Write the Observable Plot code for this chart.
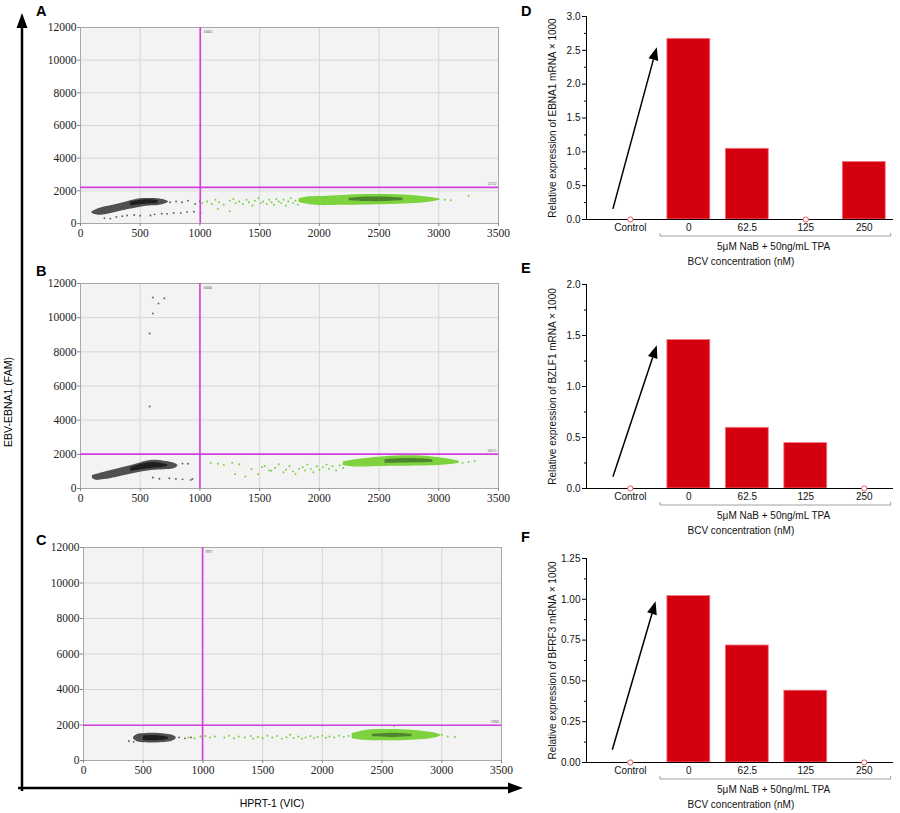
<!DOCTYPE html>
<html><head><meta charset="utf-8">
<script src="https://cdn.jsdelivr.net/npm/d3@7"></script>
<script src="https://cdn.jsdelivr.net/npm/@observablehq/plot@0.6"></script>
<style>
html,body{margin:0;padding:0;background:#fff}
#fig{position:relative;width:900px;height:813px;overflow:hidden;background:#fff}
#fig > svg{position:absolute}
.serif text{font-family:"Liberation Serif","Times New Roman",Times,serif !important}
</style></head><body><div id="fig"></div>
<script>
// ---------- scatter (ddPCR) data ----------
const xTicks = [0, 500, 1000, 1500, 2000, 2500, 3000, 3500];
const yTicks = [0, 2000, 4000, 6000, 8000, 10000, 12000];
const thresholdsX = [1003, 1000, 997];
const thresholdsY = [2212, 2015, 1985];

// cluster envelopes: [x, low y, high y]
const aGrayOuter = [[95,620,700],[150,500,900],[300,690,1160],[400,850,1350],[500,1000,1510],[600,1080,1530],[650,1100,1510],[700,1180,1450],[735,1290,1350]];
const aGrayCore = [[420,1080,1300],[500,1150,1420],[580,1200,1450],[650,1230,1400]];
const aGreenOuter = [[1830,1280,1520],[1900,1180,1620],[2000,1100,1650],[2200,1120,1720],[2400,1140,1770],[2600,1160,1770],[2800,1220,1700],[2950,1330,1580],[3010,1420,1500]];
const aGreenCore = [[2250,1400,1540],[2400,1340,1620],[2550,1350,1620],[2700,1410,1550]];
const aSparseGreen = [[1020,1250],[1060,1350],[1100,1200],[1130,1450],[1150,900],[1160,1300],[1200,1150],[1250,750],[1250,1400],[1280,1500],[1300,1250],[1330,1350],[1360,1200],[1390,1450],[1410,1300],[1440,1100],[1460,1400],[1490,1550],[1510,1250],[1530,1350],[1560,1200],[1580,1450],[1600,1300],[1620,1150],[1640,1500],[1660,1350],[1680,1250],[1700,1450],[1720,1100],[1740,1350],[1760,1550],[1780,1250],[1800,1400],[1820,1150],[1840,1500],[3050,1450],[3100,1420],[3250,1700]];
const aSparseGray = [[700,1350],[750,1300],[800,1350],[850,1300],[900,1400],[960,1200],[1000,1350],[200,330],[250,300],[300,400],[350,450],[390,490],[450,520],[500,480],[586,490],[620,560],[680,600],[725,590],[780,650],[840,640],[893,700],[950,720],[1005,650]];

const bGrayOuter = [[100,580,760],[130,480,820],[200,520,950],[300,650,1120],[400,800,1300],[500,950,1500],[600,1060,1650],[700,1100,1600],[780,1150,1500],[815,1290,1370]];
const bGrayCore = [[420,1000,1200],[500,1080,1400],[600,1180,1520],[680,1230,1470],[730,1290,1400]];
const bGreenOuter = [[2200,1350,1550],[2300,1260,1680],[2450,1280,1800],[2650,1300,1900],[2850,1320,1900],[3000,1350,1800],[3100,1400,1700],[3170,1480,1600]];
const bGreenCore = [[2550,1480,1700],[2700,1500,1760],[2850,1510,1740],[2950,1540,1680]];
const bSparseGreen = [[1090,1500],[1150,1450],[1200,1380],[1270,1500],[1295,840],[1330,1420],[1380,700],[1432,1130],[1487,840],[1520,1250],[1542,1320],[1580,1050],[1598,1040],[1630,1200],[1660,1420],[1700,950],[1720,1100],[1750,1300],[1780,1000],[1800,850],[1830,1150],[1860,1250],[1880,1050],[1900,1400],[1930,1150],[1950,950],[1980,1300],[2000,1100],[2030,1250],[2060,1400],[2080,1150],[2110,1300],[2140,1050],[2170,1350],[2200,1200],[2230,1450],[3200,1500],[3250,1550],[3300,1600]];
const bSparseGray = [[606,645],[661,570],[744,600],[799,560],[854,540],[923,500],[937,560],[854,1460],[900,1450]];
const bOutliers = [[606,11180],[702,11140],[653,10830],[606,10250],[579,9075],[579,4800]];

const cGrayOuter = [[420,1200,1320],[450,1060,1460],[520,1000,1520],[600,990,1530],[680,1020,1500],[740,1080,1440],[775,1200,1330]];
const cGrayCore = [[500,1130,1380],[580,1110,1410],[660,1140,1370],[710,1200,1310]];
const cGreenOuter = [[2250,1230,1520],[2350,1140,1680],[2500,1110,1740],[2700,1130,1720],[2850,1180,1640],[2950,1280,1540],[2990,1380,1450]];
const cGreenCore = [[2420,1340,1480],[2600,1300,1540],[2750,1350,1480]];
const cSparseGreen = [[880,1300],[930,1250],[980,1350],[1020,1380],[1060,1300],[1100,1350],[1180,1300],[1220,1400],[1260,1250],[1300,1350],[1350,1300],[1400,1380],[1420,1230],[1460,1320],[1500,1250],[1540,1400],[1580,1300],[1620,1380],[1660,1230],[1700,1310],[1730,1450],[1760,1270],[1800,1350],[1830,1230],[1860,1300],[1900,1380],[1930,1260],[1960,1330],[2000,1400],[2030,1280],[2060,1350],[2100,1300],[2140,1400],[2180,1330],[2220,1380],[2960,1400],[3000,1450],[3050,1350],[3110,1320],[2600,1950]];
const cSparseGray = [[380,1100],[420,1050],[800,1300],[850,1250],[900,1300]];

// ---------- bar chart data ----------
const categories = ["Control", "0", "62.5", "125", "250"];
const ebna1 = [0, 2.67, 1.045, 0, 0.85];
const bzlf1 = [0, 1.455, 0.595, 0.445, 0];
const bfrf3 = [0, 1.02, 0.717, 0.44, 0];
const groupLabel = "5\u03bcM NaB + 50ng/mL TPA";
const xLabelBars = "BCV concentration (nM)";
const arrowD = {x1: -0.29, y1: 0.15, x2: 0.46, y2: 2.54};
const arrowE = {x1: -0.29, y1: 0.11, x2: 0.46, y2: 1.40};
const arrowF = {x1: -0.30, y1: 0.075, x2: 0.44, y2: 0.985};

const fig = document.getElementById("fig");
const MAGENTA = "#d23fdc";
const SERIF = "'Liberation Serif', 'Times New Roman', Times, serif";
const SANS = "'Liberation Sans', Arial, sans-serif";

function place(node, left, top) {
  node.style.position = "absolute";
  node.style.left = left + "px";
  node.style.top = top + "px";
  fig.appendChild(node);
}

function scatter(p) {
  const env = arr => arr.map(([x, lo, hi]) => ({x, lo, hi}));
  const area = (arr, fill, op = 1) => Plot.areaY(env(arr), {x: "x", y1: "lo", y2: "hi", curve: "catmull-rom", fill, fillOpacity: op});
  const mt = 12, mb = 22, mr = 12;
  const node = Plot.plot({
    width: p.right + mr, height: mt + (p.bottom - p.top) + mb,
    marginLeft: p.left, marginRight: mr, marginTop: mt, marginBottom: mb,
    style: `font-family: ${SERIF}; font-size: 11.5px; color: #222; background: transparent; overflow: visible;`,
    x: {domain: [0, 3500]},
    y: {domain: [0, 12000]},
    marks: [
      Plot.frame({fill: "#f3f3f3", stroke: null}),
      Plot.gridX(xTicks, {stroke: "#d6d6d6", strokeOpacity: 1}),
      Plot.gridY(yTicks, {stroke: "#d6d6d6", strokeOpacity: 1}),
      Plot.frame({stroke: "#a8a8a8"}),
      Plot.dot(p.sparseGray, {x: d => d[0], y: d => d[1], r: 0.9, fill: "#555", stroke: null}),
      area(p.grayOuter, "#505050"),
      area(p.grayCore, "#1a1a1a", 0.9),
      Plot.dot(p.sparseGreen, {x: d => d[0], y: d => d[1], r: 0.95, fill: "#6fd03a", stroke: null}),
      area(p.greenOuter, "#7dd23e"),
      area(p.greenCore, "#44702a", 0.8),
      ...(p.outliers ? [Plot.dot(p.outliers, {x: d => d[0], y: d => d[1], r: 1, fill: "#5a6f90", stroke: null})] : []),
      Plot.ruleX([p.thrX], {stroke: MAGENTA, strokeWidth: 1.6}),
      Plot.ruleY([p.thrY], {stroke: MAGENTA, strokeWidth: 1.6}),
      Plot.text([p.thrX], {x: d => d, y: () => 12000, text: d => String(d), dx: 3, dy: 4, textAnchor: "start", fontSize: 4.5, fill: "#555"}),
      Plot.text([p.thrY], {x: () => 3500, y: d => d, text: d => String(d), dx: -2, dy: -4, textAnchor: "end", fontSize: 4.5, fill: "#555"}),
      Plot.axisX(xTicks, {tickSize: 3, tickPadding: 2, stroke: "#888", fill: "#222", fontFamily: SERIF, fontSize: 11.5, tickFormat: d => String(d), label: null}),
      Plot.axisY(yTicks, {tickSize: 3, tickPadding: 1, stroke: "#888", fill: "#222", fontFamily: SERIF, fontSize: 11.5, tickFormat: d => String(d), label: null})
    ]
  });
  node.classList.add("serif");
  place(node, 0, p.top - mt);
}

scatter({left: 80, right: 498, top: 27, bottom: 223, thrX: thresholdsX[0], thrY: thresholdsY[0],
  grayOuter: aGrayOuter, grayCore: aGrayCore, greenOuter: aGreenOuter, greenCore: aGreenCore, sparseGreen: aSparseGreen, sparseGray: aSparseGray});
scatter({left: 80, right: 498, top: 283, bottom: 488, thrX: thresholdsX[1], thrY: thresholdsY[1],
  grayOuter: bGrayOuter, grayCore: bGrayCore, greenOuter: bGreenOuter, greenCore: bGreenCore, sparseGreen: bSparseGreen, sparseGray: bSparseGray, outliers: bOutliers});
scatter({left: 83, right: 501, top: 547, bottom: 760, thrX: thresholdsX[2], thrY: thresholdsY[2],
  grayOuter: cGrayOuter, grayCore: cGrayCore, greenOuter: cGreenOuter, greenCore: cGreenCore, sparseGreen: cSparseGreen, sparseGray: cSparseGray});

function arrowMark(a) {
  return (index, {x, y}) => {
    const x1 = x(a.x1), y1 = y(a.y1), x2 = x(a.x2), y2 = y(a.y2);
    const ang = Math.atan2(y2 - y1, x2 - x1);
    const L = 13, W = 5;
    const bx = x2 - L * Math.cos(ang), by = y2 - L * Math.sin(ang);
    const g = d3.create("svg:g");
    g.append("line").attr("x1", x1).attr("y1", y1).attr("x2", bx).attr("y2", by)
      .attr("stroke", "#000").attr("stroke-width", 1.5);
    g.append("path").attr("d", `M${x2},${y2}L${bx + W * Math.sin(ang)},${by - W * Math.cos(ang)}L${bx - W * Math.sin(ang)},${by + W * Math.cos(ang)}Z`)
      .attr("fill", "#000");
    return g.node();
  };
}

function bracketMark(a, b, off) {
  return (index, {x, y}) => {
    const yy = y(0) + off;
    return d3.create("svg:path")
      .attr("d", `M${x(a)},${yy - 3}V${yy}H${x(b)}V${yy - 3}`)
      .attr("fill", "none").attr("stroke", "#888").attr("stroke-width", 0.8).node();
  };
}

function bars(p) {
  const data = p.values.map((v, i) => ({i, v, cat: categories[i]}));
  const mt = 11, mb = 51;
  const node = Plot.plot({
    width: 380, height: mt + (p.bottom - p.top) + mb,
    marginLeft: 66, marginRight: 7, marginTop: mt, marginBottom: mb,
    style: `font-family: ${SANS}; font-size: 10px; color: #111; background: transparent; overflow: visible;`,
    x: {domain: [-0.75, 4.5], axis: null},
    y: {domain: [0, p.ymax], axis: null},
    marks: [
      Plot.rect(data.filter(d => d.v > 0), {x1: d => d.i - 0.367, x2: d => d.i + 0.367, y1: () => 0, y2: "v", fill: "#d5000f", stroke: "#f27a80", strokeWidth: 0.8}),
      Plot.ruleX([-0.75], {stroke: "#000", strokeWidth: 1}),
      Plot.ruleY([0], {stroke: "#000", strokeWidth: 1}),
      Plot.axisY(p.major, {tickSize: 4, tickPadding: 2, tickFormat: d3.format(p.fmt), label: null, stroke: "#000", fill: "#111", fontFamily: SANS, fontSize: 10}),
      Plot.axisY(p.minor, {tickSize: 2, tickFormat: () => "", label: null, stroke: "#000"}),
      Plot.dot(data.filter(d => d.v === 0), {x: "i", y: () => 0, r: 2.6, stroke: "#e8585c", fill: "#fff", strokeWidth: 1}),
      Plot.text(data, {x: "i", y: () => 0, text: "cat", dy: 8.5, lineAnchor: "middle", fontSize: 10, fontFamily: SANS}),
      bracketMark(0.515, 4.46, 17),
      Plot.text([groupLabel], {x: () => 2.45, y: () => 0, text: d => d, dy: 27.5, fontSize: 10, fontFamily: SANS}),
      Plot.text([xLabelBars], {x: () => 1.89, y: () => 0, text: d => d, dy: 42, fontSize: 10, fontFamily: SANS}),
      Plot.text([p.ylabel], {frameAnchor: "left", text: d => d, rotate: -90, dx: -34, textAnchor: "middle", fontSize: 10, fontFamily: SANS}),
      arrowMark(p.arrow)
    ]
  });
  place(node, 520, p.top - mt);
}

bars({values: ebna1, top: 16, bottom: 219, ymax: 3.0, major: d3.range(0, 3.01, 0.5), minor: d3.range(0.25, 3, 0.5), fmt: ".1f",
  ylabel: "Relative expression of EBNA1 mRNA \u00d7 1000", arrow: arrowD});
bars({values: bzlf1, top: 284, bottom: 488, ymax: 2.0, major: d3.range(0, 2.01, 0.5), minor: d3.range(0.25, 2, 0.5), fmt: ".1f",
  ylabel: "Relative expression of BZLF1 mRNA \u00d7 1000", arrow: arrowE});
bars({values: bfrf3, top: 558, bottom: 762, ymax: 1.25, major: d3.range(0, 1.26, 0.25), minor: d3.range(0.125, 1.25, 0.25), fmt: ".2f",
  ylabel: "Relative expression of BFRF3 mRNA \u00d7 1000", arrow: arrowF});

// ---------- overall axis arrows, titles and panel letters ----------
const ov = d3.create("svg").attr("width", 900).attr("height", 813)
  .style("left", "0px").style("top", "0px").style("pointer-events", "none")
  .attr("font-family", SANS);
ov.append("line").attr("x1", 22).attr("y1", 791).attr("x2", 22).attr("y2", 26).attr("stroke", "#000").attr("stroke-width", 2.5);
ov.append("path").attr("d", "M22,13L16.5,28L27.5,28Z").attr("fill", "#000");
ov.append("line").attr("x1", 18).attr("y1", 788).attr("x2", 510).attr("y2", 788).attr("stroke", "#000").attr("stroke-width", 2.5);
ov.append("path").attr("d", "M523,788L508,782.5L508,793.5Z").attr("fill", "#000");
ov.append("text").attr("transform", "translate(9,402) rotate(-90)").attr("text-anchor", "middle").attr("dominant-baseline", "middle")
  .attr("font-size", 10.5).text("EBV-EBNA1 (FAM)");
ov.append("text").attr("x", 272).attr("y", 807).attr("text-anchor", "middle").attr("font-size", 10.5).text("HPRT-1 (VIC)");
const letters = [["A", 36, 16], ["B", 36, 276], ["C", 36, 545], ["D", 521, 16], ["E", 521, 273], ["F", 521, 542]];
for (const [t, x, y] of letters) {
  ov.append("text").attr("x", x).attr("y", y).attr("font-size", 14.5).attr("font-weight", "bold").text(t);
}
place(ov.node(), 0, 0);
</script></body></html>
